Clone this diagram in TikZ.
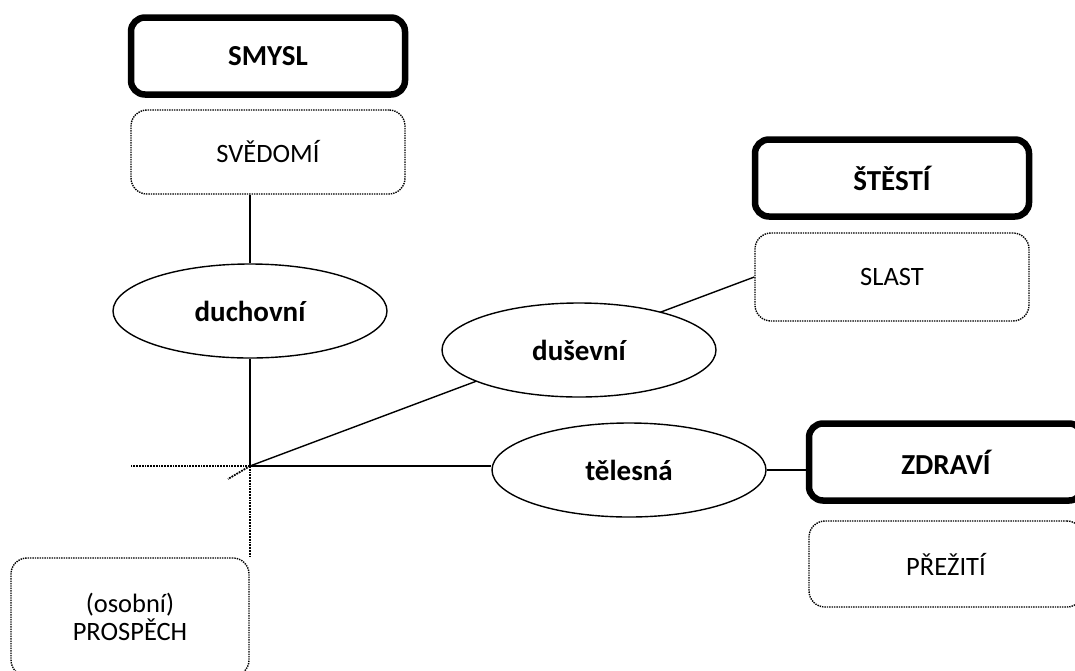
\documentclass[tikz,border=0pt]{standalone}
\usepackage{fontspec}
\setmainfont{Carlito}
\usetikzlibrary{shapes,positioning}

\begin{document}
\begin{tikzpicture}[x=1pt,y=-1pt]

    \pgfdeclarelayer{background}
    \pgfsetlayers{background,main}

    \tikzstyle{goal} = [draw, line width=6.5pt, rounded corners=14pt, fill=white,
        minimum width=274pt, minimum height=77pt, text centered,
        font=\fontsize{29}{33}\selectfont\bfseries]

    \tikzstyle{means} = [draw, densely dotted, line width=1.4pt, rounded corners=16pt,
        fill=white, minimum width=274pt, minimum height=84pt, text centered,
        font=\fontsize{26.5}{28}\selectfont]

    \tikzstyle{dim} = [draw, ellipse, line width=1.4pt, fill=white, inner sep=0pt,
        minimum width=274pt, minimum height=94pt, text centered,
        font=\fontsize{29}{33}\selectfont\bfseries]

    \tikzstyle{conn} = [line width=1.4pt]
    \tikzstyle{axis} = [line width=1.8pt, densely dotted]

    \clip (0,0) rectangle (1075,670);

    % duchovni
    \node [goal] (smysl) at (268,56) {SMYSL};
    \node [means] (svedomi) at (268,152) {SVĚDOMÍ};
    \node [dim] (duchovni) at (250,311) {duchovní};

    % dusevni
    \node [goal] (stesti) at (892,178) {ŠTĚSTÍ};
    \node [means, minimum height=88pt] (slast) at (892,277) {SLAST};
    \node [dim] (dusevni) at (579,350) {duševní};

    % telesna
    \node [dim] (telesna) at (629,470) {tělesná};
    \node [goal] (zdravi) at (946,462) {ZDRAVÍ};
    \node [means, minimum height=86pt] (prezit) at (946,564) {PŘEŽITÍ};

    % osobni prospech
    \node [means, minimum width=238pt, minimum height=118pt, align=center]
        (prospech) at (130,617) {(osobní)\\PROSPĚCH};

    \coordinate (o) at (250,466);
    \coordinate (oleft) at (130,466);
    \coordinate (odown) at (250,558);
    \coordinate (odiag) at (228,479);

    \begin{pgfonlayer}{background}
        \draw[conn] (duchovni.north) -- (duchovni.north |- svedomi.south);
        \draw[conn] (duchovni.south) -- (o);
        \draw[conn] (o) -- (slast.west);
        \draw[conn] (o) -- (o -| telesna.west);
        \draw[conn] (telesna.east) -- (zdravi.west |- telesna.east);

        \draw[axis] (o) -- (oleft);
        \draw[axis] (o) -- (odown);
        \draw[axis] (o) -- (odiag);
    \end{pgfonlayer}

\end{tikzpicture}
\end{document}
